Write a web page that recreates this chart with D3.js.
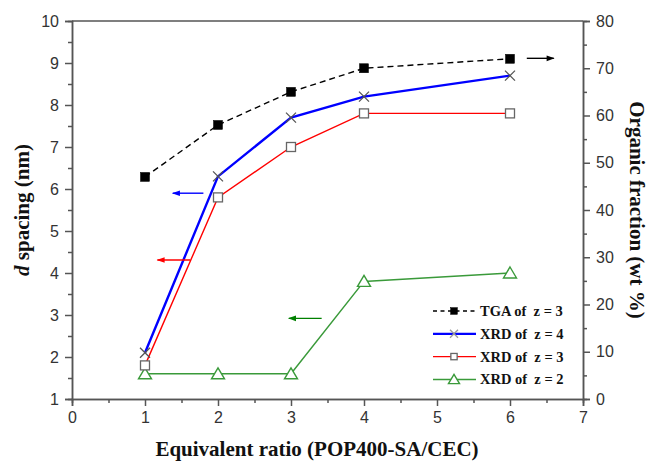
<!DOCTYPE html>
<html>
<head>
<meta charset="utf-8">
<script src="https://cdn.jsdelivr.net/npm/d3@7"></script>
<style>
  body { margin: 0; background: #fff; }
  svg { display: block; }
  .tick text { font-family: "Liberation Sans", Arial, sans-serif; font-size: 16px; fill: #333; }
  .domain, .tick line { stroke: #555; stroke-width: 1.5; }
  .title { font-family: "Liberation Serif", "Times New Roman", serif; font-weight: bold; fill: #111; }
  .leg { font-family: "Liberation Serif", "Times New Roman", serif; font-weight: bold; font-size: 14.5px; fill: #111; white-space: pre; }
</style>
</head>
<body>
<div id="vis"></div>
<script>
// Frame and plot box
const FRAME_WIDTH = 651;
const FRAME_HEIGHT = 462;
const MARGINS = {left: 72, right: 68, top: 21, bottom: 63};
const VIS_WIDTH = FRAME_WIDTH - MARGINS.left - MARGINS.right;
const VIS_HEIGHT = FRAME_HEIGHT - MARGINS.top - MARGINS.bottom;

// Data
const ratios = [1, 2, 3, 4, 6];
const tgaZ3 = [47, 58, 65, 70, 72];       // organic fraction (wt %), right axis
const xrdZ4 = [2.1, 6.3, 7.7, 8.2, 8.7];  // d spacing (nm)
const xrdZ3 = [1.8, 5.8, 7.0, 7.8, 7.8];
const xrdZ2 = [1.6, 1.6, 1.6, 3.8, 4.0];

const xTicks = [0, 1, 2, 3, 4, 5, 6, 7];
const yLeftTicks = [1, 2, 3, 4, 5, 6, 7, 8, 9, 10];
const yRightTicks = [0, 10, 20, 30, 40, 50, 60, 70, 80];

const legendLabels = ["TGA of  z = 3", "XRD of  z = 4", "XRD of  z = 3", "XRD of  z = 2"];

// Arrows pointing to each series' axis: [x0, x1, y, axis]
const arrows = [
  {x0: 6.23, x1: 6.6, y: 72.1, axis: "right", color: "#000"},
  {x0: 1.80, x1: 1.38, y: 5.9, axis: "left", color: "#0000ff"},
  {x0: 1.62, x1: 1.17, y: 4.31, axis: "left", color: "#ff0000"},
  {x0: 3.42, x1: 2.97, y: 2.92, axis: "left", color: "#008000"}
];

const FRAME = d3.select("#vis")
  .append("svg")
    .attr("width", FRAME_WIDTH)
    .attr("height", FRAME_HEIGHT);

const X_SCALE = d3.scaleLinear().domain([0, 7]).range([MARGINS.left, MARGINS.left + VIS_WIDTH]);
const Y_LEFT = d3.scaleLinear().domain([1, 10]).range([MARGINS.top + VIS_HEIGHT, MARGINS.top]);
const Y_RIGHT = d3.scaleLinear().domain([0, 80]).range([MARGINS.top + VIS_HEIGHT, MARGINS.top]);

const BOTTOM = MARGINS.top + VIS_HEIGHT;
const RIGHT = MARGINS.left + VIS_WIDTH;

// minor ticks first (no labels)
FRAME.append("g")
  .attr("transform", "translate(0," + BOTTOM + ")")
  .call(d3.axisBottom(X_SCALE).tickValues(d3.range(0.5, 7, 1)).tickSize(4).tickFormat(""));
FRAME.append("g")
  .attr("transform", "translate(" + MARGINS.left + ",0)")
  .call(d3.axisLeft(Y_LEFT).tickValues(d3.range(1.5, 10, 1)).tickSize(4).tickFormat(""));
FRAME.append("g")
  .attr("transform", "translate(" + RIGHT + ",0)")
  .call(d3.axisRight(Y_RIGHT).tickValues(d3.range(5, 80, 10)).tickSize(4).tickFormat(""));

// major ticks
FRAME.append("g")
  .attr("transform", "translate(0," + BOTTOM + ")")
  .call(d3.axisBottom(X_SCALE).tickValues(xTicks).tickSize(7).tickPadding(6).tickFormat(d3.format("d")));
FRAME.append("g")
  .attr("transform", "translate(" + MARGINS.left + ",0)")
  .call(d3.axisLeft(Y_LEFT).tickValues(yLeftTicks).tickSize(7).tickPadding(6).tickFormat(d3.format("d")));
FRAME.append("g")
  .attr("transform", "translate(" + RIGHT + ",0)")
  .call(d3.axisRight(Y_RIGHT).tickValues(yRightTicks).tickSize(7).tickPadding(6).tickFormat(d3.format("d")));

// top frame line
FRAME.append("line")
  .attr("x1", MARGINS.left).attr("x2", RIGHT)
  .attr("y1", MARGINS.top).attr("y2", MARGINS.top)
  .attr("stroke", "#555").attr("stroke-width", 1.5);

// Axis titles
FRAME.append("text")
  .attr("class", "title")
  .attr("x", 317).attr("y", 456)
  .attr("text-anchor", "middle")
  .style("font-size", "21px")
  .text("Equivalent ratio (POP400-SA/CEC)");

const leftTitle = FRAME.append("text")
  .attr("class", "title")
  .attr("transform", "translate(29," + (MARGINS.top + VIS_HEIGHT / 2) + ") rotate(-90)")
  .attr("text-anchor", "middle")
  .style("font-size", "21px");
leftTitle.append("tspan").attr("font-style", "italic").text("d");
leftTitle.append("tspan").text(" spacing (nm)");

FRAME.append("text")
  .attr("class", "title")
  .attr("transform", "translate(630," + (MARGINS.top + VIS_HEIGHT / 2) + ") rotate(90)")
  .attr("text-anchor", "middle")
  .style("font-size", "21px")
  .text("Organic fraction (wt %)");

// Lines
function drawLine(values, yScale, color, width, dash) {
  const line = d3.line()
    .x((d, i) => X_SCALE(ratios[i]))
    .y((d) => yScale(d));
  FRAME.append("path")
    .datum(values)
    .attr("d", line)
    .attr("fill", "none")
    .attr("stroke", color)
    .attr("stroke-width", width)
    .attr("stroke-dasharray", dash || null);
}

drawLine(tgaZ3, Y_RIGHT, "#000", 1.4, "6,4");
drawLine(xrdZ2, Y_LEFT, "#3a9a3a", 1.5);
drawLine(xrdZ3, Y_LEFT, "#ff0000", 1.4);
drawLine(xrdZ4, Y_LEFT, "#0000ff", 2.4);

// Marker shapes, k scales the size
function square(g, cx, cy, filled, k = 1) {
  const h = 4.5 * k;
  g.append("rect")
    .attr("x", cx - h).attr("y", cy - h)
    .attr("width", 2 * h).attr("height", 2 * h)
    .attr("fill", filled ? "#000" : "#fff")
    .attr("stroke", filled ? "#000" : "#666")
    .attr("stroke-width", filled ? 0.5 : 1.3);
}
function cross(g, cx, cy, k = 1) {
  const h = 5 * k;
  g.append("path")
    .attr("d", "M" + (cx - h) + "," + (cy - h) + "L" + (cx + h) + "," + (cy + h) +
               "M" + (cx - h) + "," + (cy + h) + "L" + (cx + h) + "," + (cy - h))
    .attr("stroke", k < 1 ? "#999" : "#555").attr("stroke-width", 1.3).attr("fill", "none");
}
function triangle(g, cx, cy, k = 1) {
  g.append("path")
    .attr("d", "M" + cx + "," + (cy - 6 * k) + "L" + (cx + 6.5 * k) + "," + (cy + 5 * k) +
               "L" + (cx - 6.5 * k) + "," + (cy + 5 * k) + "Z")
    .attr("stroke", "#3a9a3a").attr("stroke-width", 1.4).attr("fill", "#fff");
}

const MARKS = FRAME.append("g");
ratios.forEach((r, i) => {
  triangle(MARKS, X_SCALE(r), Y_LEFT(xrdZ2[i]));
  square(MARKS, X_SCALE(r), Y_LEFT(xrdZ3[i]), false);
  cross(MARKS, X_SCALE(r), Y_LEFT(xrdZ4[i]));
  square(MARKS, X_SCALE(r), Y_RIGHT(tgaZ3[i]), true);
});

// Arrows
const defs = FRAME.append("defs");
arrows.forEach((a, i) => {
  defs.append("marker")
    .attr("id", "arr" + i)
    .attr("viewBox", "0 0 10 10")
    .attr("refX", 9).attr("refY", 5)
    .attr("markerWidth", 10).attr("markerHeight", 8)
    .attr("markerUnits", "userSpaceOnUse")
    .attr("orient", "auto")
    .append("path")
      .attr("d", "M0,1.5L10,5L0,8.5Z")
      .attr("fill", a.color);
  const yScale = a.axis === "right" ? Y_RIGHT : Y_LEFT;
  FRAME.append("line")
    .attr("x1", X_SCALE(a.x0)).attr("x2", X_SCALE(a.x1))
    .attr("y1", yScale(a.y)).attr("y2", yScale(a.y))
    .attr("stroke", a.color).attr("stroke-width", 1.4)
    .attr("marker-end", "url(#arr" + i + ")");
});

// Legend
const LEG_X = 433;
const LEG_Y0 = 311;
const LEG_DY = 22.8;
const legendStyles = [
  {color: "#000", width: 1.4, dash: "4,3.5", mark: (g, x, y) => square(g, x, y, true, 0.75)},
  {color: "#0000ff", width: 2.2, dash: null, mark: (g, x, y) => cross(g, x, y, 0.8)},
  {color: "#ff0000", width: 1.3, dash: null, mark: (g, x, y) => square(g, x, y, false, 0.7)},
  {color: "#3a9a3a", width: 1.5, dash: null, mark: (g, x, y) => triangle(g, x, y, 0.85)}
];
const LEG = FRAME.append("g");
legendLabels.forEach((label, i) => {
  const y = LEG_Y0 + i * LEG_DY;
  const s = legendStyles[i];
  LEG.append("line")
    .attr("x1", LEG_X).attr("x2", LEG_X + 43)
    .attr("y1", y).attr("y2", y)
    .attr("stroke", s.color).attr("stroke-width", s.width)
    .attr("stroke-dasharray", s.dash);
  s.mark(LEG, LEG_X + 21, y);
  LEG.append("text")
    .attr("class", "leg")
    .attr("x", LEG_X + 47).attr("y", y + 5)
    .text(label);
});
</script>
</body>
</html>
